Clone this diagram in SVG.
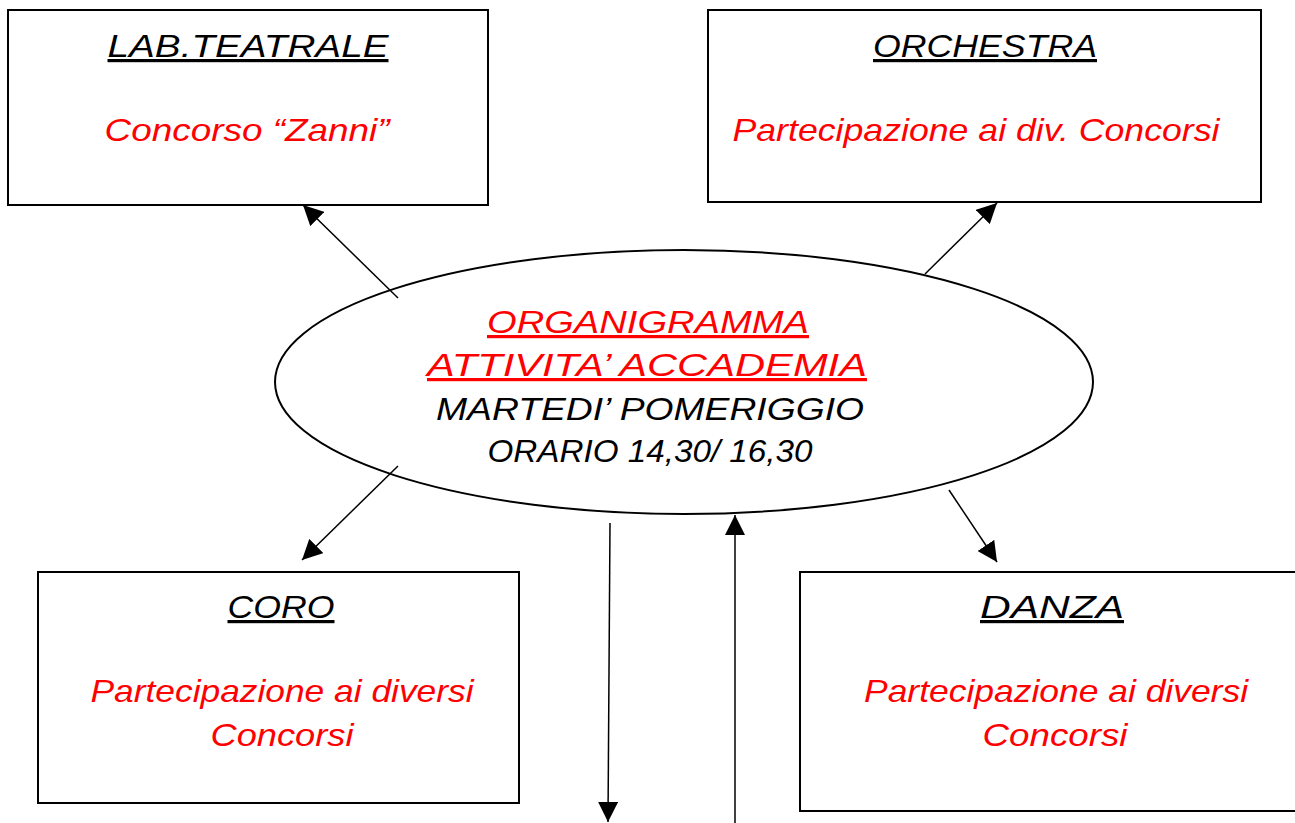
<svg xmlns="http://www.w3.org/2000/svg" width="1295" height="823" viewBox="0 0 1295 823">
<style>
.box{fill:#fff;stroke:#000;stroke-width:2}
.t{font-family:"Liberation Sans",Arial,sans-serif;font-style:italic;font-size:32px;text-anchor:middle}
.h{fill:#000;text-decoration:underline}
.r{fill:#ff0000}
.k{fill:#000}
.c{stroke:#000;stroke-width:1.5;fill:none;marker-end:url(#ah)}
</style>
<defs>
<marker id="ah" viewBox="0 0 10 10" refX="10" refY="5" markerWidth="20" markerHeight="20" markerUnits="userSpaceOnUse" orient="auto">
<path d="M0,0 L10,5 L0,10 z" fill="#000"/>
</marker>
</defs>
<rect width="1295" height="823" fill="#fff"/>
<g id="lab">
<rect class="box" x="8" y="10" width="480" height="195"/>
<text class="t h" x="248" y="57" textLength="281" lengthAdjust="spacingAndGlyphs">LAB.TEATRALE</text>
<text class="t r" x="247" y="141" textLength="285" lengthAdjust="spacingAndGlyphs">Concorso  “Zanni”</text>
</g>
<g id="orchestra">
<rect class="box" x="708" y="10" width="553" height="192"/>
<text class="t h" x="985" y="57" textLength="224" lengthAdjust="spacingAndGlyphs">ORCHESTRA</text>
<text class="t r" x="976" y="141" textLength="487" lengthAdjust="spacingAndGlyphs">Partecipazione ai div. Concorsi</text>
</g>
<g id="centro">
<ellipse cx="684" cy="382" rx="409" ry="132" fill="#fff" stroke="#000" stroke-width="2"/>
<text class="t r" x="648" y="333" textLength="322" lengthAdjust="spacingAndGlyphs" text-decoration="underline">ORGANIGRAMMA</text>
<text class="t r" x="647" y="376" textLength="440" lengthAdjust="spacingAndGlyphs" text-decoration="underline">ATTIVITA’ ACCADEMIA</text>
<text class="t k" x="650" y="420" textLength="428" lengthAdjust="spacingAndGlyphs">MARTEDI’ POMERIGGIO</text>
<text class="t k" x="650" y="462" textLength="325" lengthAdjust="spacingAndGlyphs">ORARIO 14,30/ 16,30</text>
</g>
<g id="coro">
<rect class="box" x="38" y="572" width="481" height="231"/>
<text class="t h" x="281" y="618" textLength="107" lengthAdjust="spacingAndGlyphs">CORO</text>
<text class="t r" x="282" y="702" textLength="383" lengthAdjust="spacingAndGlyphs">Partecipazione ai diversi</text>
<text class="t r" x="282" y="746" textLength="143" lengthAdjust="spacingAndGlyphs">Concorsi</text>
</g>
<g id="danza">
<rect class="box" x="800" y="572" width="500" height="239"/>
<text class="t h" x="1052" y="618" textLength="144" lengthAdjust="spacingAndGlyphs">DANZA</text>
<text class="t r" x="1056" y="702" textLength="384" lengthAdjust="spacingAndGlyphs">Partecipazione ai diversi</text>
<text class="t r" x="1055" y="746" textLength="145" lengthAdjust="spacingAndGlyphs">Concorsi</text>
</g>
<g id="connectors">
<line class="c" x1="398" y1="298" x2="303" y2="205"/>
<line class="c" x1="925" y1="274" x2="997" y2="203"/>
<line class="c" x1="398" y1="466" x2="302" y2="560"/>
<line class="c" x1="949" y1="490" x2="997" y2="562"/>
<line class="c" x1="610" y1="523" x2="608" y2="822"/>
<line class="c" x1="735" y1="823" x2="735" y2="515"/>
</g>
</svg>
